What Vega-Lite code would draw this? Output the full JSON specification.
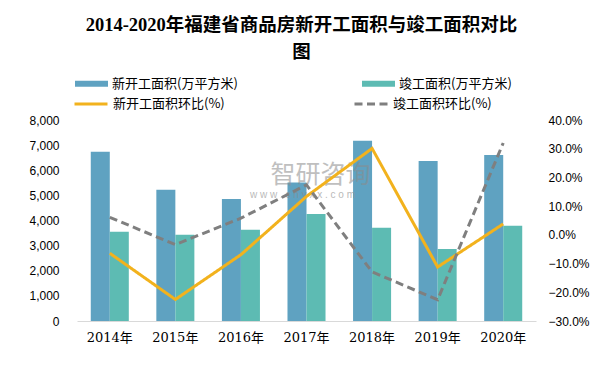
{
  "$schema": "https://vega.github.io/schema/vega-lite/v6.json",
  "width": 459,
  "height": 201,
  "autosize": "none",
  "padding": {"left": 77, "top": 120, "right": 67, "bottom": 45},
  "background": "white",
  "title": {
    "text": ["2014-2020年福建省商品房新开工面积与竣工面积对比", "图"],
    "font": "Liberation Serif, Noto Sans CJK SC",
    "fontSize": 18.5,
    "fontWeight": "bold",
    "color": "#000000",
    "anchor": "middle",
    "frame": "group",
    "lineHeight": 27,
    "offset": 6,
    "dx": -5
  },
  "data": {
    "values": [
      {"年份": "2014年", "新开工面积(万平方米)": 6740, "竣工面积(万平方米)": 3550, "新开工面积环比(%)": -6.4, "竣工面积环比(%)": 6.1},
      {"年份": "2015年", "新开工面积(万平方米)": 5220, "竣工面积(万平方米)": 3430, "新开工面积环比(%)": -22.5, "竣工面积环比(%)": -3.4},
      {"年份": "2016年", "新开工面积(万平方米)": 4860, "竣工面积(万平方米)": 3630, "新开工面积环比(%)": -6.9, "竣工面积环比(%)": 5.8},
      {"年份": "2017年", "新开工面积(万平方米)": 5510, "竣工面积(万平方米)": 4260, "新开工面积环比(%)": 13.4, "竣工面积环比(%)": 17.4},
      {"年份": "2018年", "新开工面积(万平方米)": 7170, "竣工面积(万平方米)": 3710, "新开工面积环比(%)": 30.1, "竣工面积环比(%)": -12.9},
      {"年份": "2019年", "新开工面积(万平方米)": 6370, "竣工面积(万平方米)": 2870, "新开工面积环比(%)": -11.2, "竣工面积环比(%)": -22.6},
      {"年份": "2020年", "新开工面积(万平方米)": 6610, "竣工面积(万平方米)": 3790, "新开工面积环比(%)": 3.8, "竣工面积环比(%)": 32.0}
    ]
  },
  "config": {
    "view": {"stroke": null},
    "axis": {"grid": false, "ticks": false, "labelColor": "#000000", "title": null, "labelOverlap": false}
  },
  "layer": [
    {
      "layer": [
        {
          "transform": [{"fold": ["新开工面积(万平方米)", "竣工面积(万平方米)"], "as": ["系列", "值"]}],
          "mark": {"type": "bar"},
          "encoding": {
            "x": {
              "field": "年份", "type": "nominal", "sort": null,
              "scale": {"paddingInner": 0.42, "paddingOuter": 0.21},
              "axis": {"labelAngle": 0, "domain": true, "domainColor": "#d9d9d9", "domainWidth": 1, "labelFont": "DejaVu Serif, Noto Sans CJK SC", "labelFontSize": 13, "labelPadding": 10}
            },
            "xOffset": {"field": "系列", "type": "nominal", "sort": ["新开工面积(万平方米)", "竣工面积(万平方米)"], "scale": {"paddingInner": 0, "paddingOuter": 0}},
            "y": {
              "field": "值", "type": "quantitative",
              "scale": {"domain": [0, 8000], "nice": false},
              "axis": {"values": [0, 1000, 2000, 3000, 4000, 5000, 6000, 7000, 8000], "format": ",.0f", "domain": false, "labelFont": "Liberation Sans", "labelFontSize": 12, "labelPadding": 18, "labelOverlap": false}
            },
            "color": {
              "field": "系列", "type": "nominal",
              "scale": {"domain": ["新开工面积(万平方米)", "竣工面积(万平方米)"], "range": ["#5fa2c1", "#5dbbb3"]},
              "legend": {"orient": "none", "legendX": -2, "legendY": -53, "direction": "horizontal", "columns": 2, "columnPadding": 124, "title": null, "symbolType": "M-1,-0.18H1V0.18H-1Z", "symbolSize": 1089, "symbolStrokeWidth": 0, "labelFont": "Noto Sans CJK SC", "labelFontSize": 13, "labelOffset": 4, "labelColor": "#000000", "labelLimit": 300}
            }
          }
        },
        {
          "data": {"values": [{"水印": "智研咨询"}]},
          "mark": {"type": "text", "font": "Noto Sans CJK SC", "fontSize": 25, "color": "#8c8c8c", "opacity": 0.55, "dx": 14},
          "encoding": {
            "x": {"datum": "2017年"},
            "y": {"datum": 5800, "type": "quantitative", "axis": {"values": [0, 1000, 2000, 3000, 4000, 5000, 6000, 7000, 8000], "format": ",.0f", "domain": false, "labelFont": "Liberation Sans", "labelFontSize": 12, "labelPadding": 18, "labelOverlap": false}},
            "text": {"field": "水印"}
          }
        },
        {
          "data": {"values": [{"水印": "w w w . c h y x x . c o m"}]},
          "mark": {"type": "text", "font": "Liberation Sans", "fontSize": 10, "color": "#8c8c8c", "opacity": 0.6, "dx": -4},
          "encoding": {
            "x": {"datum": "2017年"},
            "y": {"datum": 5000, "type": "quantitative", "axis": {"values": [0, 1000, 2000, 3000, 4000, 5000, 6000, 7000, 8000], "format": ",.0f", "domain": false, "labelFont": "Liberation Sans", "labelFontSize": 12, "labelPadding": 18, "labelOverlap": false}},
            "text": {"field": "水印"}
          }
        }
      ]
    },
    {
      "transform": [{"fold": ["新开工面积环比(%)", "竣工面积环比(%)"], "as": ["指标", "环比"]}],
      "mark": {"type": "line", "strokeWidth": 3},
      "encoding": {
        "x": {"field": "年份", "type": "nominal", "sort": null},
        "y": {
          "field": "环比", "type": "quantitative",
          "scale": {"domain": [-30, 40], "nice": false},
          "axis": {"orient": "right", "values": [-30, -20, -10, 0, 10, 20, 30, 40], "labelExpr": "format(datum.value, '.1f') + '%'", "domain": false, "labelFont": "Liberation Sans", "labelFontSize": 12, "labelPadding": 12}
        },
        "stroke": {
          "field": "指标", "type": "nominal",
          "scale": {"domain": ["新开工面积环比(%)", "竣工面积环比(%)"], "range": ["#f2b21d", "#7f7f7f"]},
          "legend": {"orient": "none", "legendX": -4, "legendY": -34, "direction": "horizontal", "columns": 2, "columnPadding": 123, "title": null, "symbolType": "stroke", "symbolSize": 1089, "symbolStrokeWidth": 3, "labelFont": "Noto Sans CJK SC", "labelFontSize": 13, "labelOffset": 4, "labelColor": "#000000", "labelLimit": 300}
        },
        "strokeDash": {
          "field": "指标", "type": "nominal",
          "scale": {"domain": ["新开工面积环比(%)", "竣工面积环比(%)"], "range": [[1, 0], [8, 4.5]]}
        }
      }
    }
  ],
  "resolve": {"scale": {"y": "independent"}}
}
